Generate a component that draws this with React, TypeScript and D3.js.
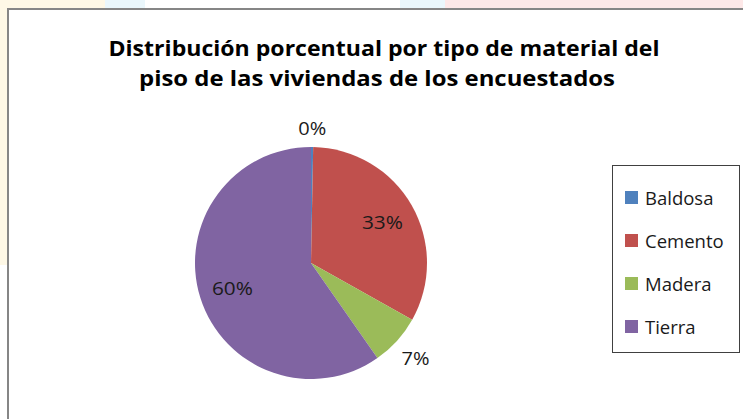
import React from 'react';
import * as d3 from 'd3';

const categories = ['Baldosa', 'Cemento', 'Madera', 'Tierra'];
// Baldosa is a hair above zero: the reference shows a thin sliver labelled 0%
const shares = [0.3, 33, 7.2, 60];
const colors = ['#4F81BD', '#C0504D', '#9BBB59', '#8064A2'];
const titleLines = [
  'Distribución porcentual por tipo de material del',
  'piso de las viviendas de los encuestados',
];

const width = 743;
const height = 419;
const font = '"Open Sans", "Noto Sans", sans-serif';

const App = () => {
  const cx = 311;
  const cy = 263;
  const radius = 116;

  const pie = d3.pie<number>().value((d) => d).sort(null);
  const arcs = pie(shares);
  const arc = d3.arc<d3.PieArcDatum<number>>().innerRadius(0).outerRadius(radius);
  const total = d3.sum(shares);
  const fmt = d3.format('.0%');

  const labelPos = (a: d3.PieArcDatum<number>) => {
    const mid = (a.startAngle + a.endAngle) / 2;
    const small = a.value / total < 0.1;
    const r = small ? radius + (a.value / total < 0.02 ? 19 : 25) : radius * 0.71;
    return [Math.sin(mid) * r, -Math.cos(mid) * r];
  };

  const legendY = d3.scalePoint<string>().domain(categories).range([198, 327]);

  return (
    <svg
      width={width}
      height={height}
      style={{ position: 'absolute', left: 0, top: 0, background: '#fff' }}
    >
      {/* faint page background peeking out around the chart frame */}
      <rect x={0} y={0} width={105} height={9} fill="#fef8e6" />
      <rect x={0} y={0} width={7} height={265} fill="#fef8e6" />
      <rect x={105} y={0} width={40} height={9} fill="#eaf7fc" />
      <rect x={400} y={0} width={45} height={9} fill="#eaf7fc" />
      <rect x={445} y={0} width={298} height={9} fill="#fde8e8" />

      <rect x={8} y={9} width={760} height={440} fill="#fff" stroke="#868686" strokeWidth={2} />

      {titleLines.map((t, i) => (
        <text
          key={i}
          x={i === 0 ? 384 : 377}
          y={56 + i * 30}
          textAnchor="middle"
          fontFamily={font}
          fontWeight="bold"
          fontSize={21}
          fill="#000"
          textLength={i === 0 ? 551 : 476}
          lengthAdjust="spacingAndGlyphs"
        >
          {t}
        </text>
      ))}

      <g transform={`translate(${cx},${cy})`}>
        {arcs.map((a, i) => (
          <path key={categories[i]} d={arc(a) || ''} fill={colors[i]} />
        ))}
        {arcs.map((a, i) => {
          const [x, y] = labelPos(a);
          return (
            <text
              key={categories[i]}
              x={x}
              y={y + 7}
              textAnchor="middle"
              fontFamily={font}
              fontSize={19}
              fill="#1a1a1a"
              textLength={a.value / total < 0.1 ? 28 : 41}
              lengthAdjust="spacingAndGlyphs"
            >
              {fmt(a.value / total)}
            </text>
          );
        })}
      </g>

      <rect x={612.5} y={165.5} width={127} height={187} fill="#fff" stroke="#404040" strokeWidth={1} />
      {categories.map((c, i) => (
        <g key={c} transform={`translate(625,${legendY(c)})`}>
          <rect x={0} y={-7} width={13} height={13} fill={colors[i]} />
          <text x={20} y={6.5} fontFamily={font} fontSize={18.5} fill="#1a1a1a">
            {c}
          </text>
        </g>
      ))}
    </svg>
  );
};

export default App;
